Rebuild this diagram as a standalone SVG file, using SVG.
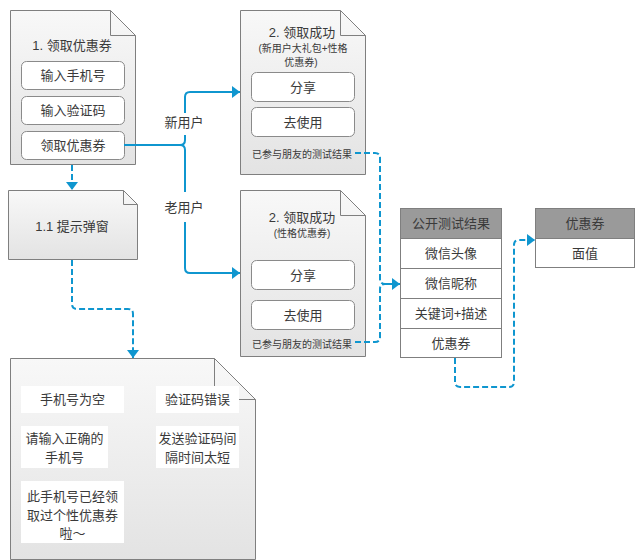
<svg xmlns="http://www.w3.org/2000/svg" width="635" height="560" viewBox="0 0 635 560">
<style>
  text { font-family: "Liberation Sans", "Noto Sans CJK SC", sans-serif; fill: #3a3a3a; text-anchor: middle; }
  .t13 { font-size: 13px; }
  .t10 { font-size: 10px; }
  .doc { fill: url(#docGrad); stroke: #7f7f7f; stroke-width: 1; }
  .fold { fill: none; stroke: #7f7f7f; stroke-width: 1; }
  .btn { fill: #ffffff; stroke: #8a8a8a; stroke-width: 1; }
  .wbox { fill: #ffffff; stroke: none; }
  .cell { fill: #ffffff; stroke: #7f7f7f; stroke-width: 1; }
  .head { fill: #9a9a9a; stroke: #7f7f7f; stroke-width: 1; }
  .solid { fill: none; stroke: #0f96cf; stroke-width: 2; }
  .dash { fill: none; stroke: #0f96cf; stroke-width: 2; stroke-dasharray: 6 3; }
</style>
<defs>
  <linearGradient id="docGrad" x1="0" y1="0" x2="0" y2="1">
    <stop offset="0" stop-color="#f8f8f8"/>
    <stop offset="1" stop-color="#e3e3e3"/>
  </linearGradient>
  <marker id="arr" markerUnits="userSpaceOnUse" markerWidth="8" markerHeight="12" viewBox="0 0 8 12" refX="8" refY="6" orient="auto">
    <path d="M0,0 L8,6 L0,12 Z" fill="#0f96cf"/>
  </marker>
</defs>

<g id="node-1">
  <path class="doc" d="M10.5,10.5 H110.5 L135.5,35.5 V164.5 H10.5 Z"/>
  <path class="fold" d="M110.5,10.5 V35.5 H135.5"/>
  <text class="t13" x="72" y="50">1. 领取优惠券</text>
  <rect class="btn" x="21.5" y="61.5" width="103" height="28" rx="5"/>
  <text class="t13" x="73" y="80">输入手机号</text>
  <rect class="btn" x="21.5" y="96.5" width="103" height="28" rx="5"/>
  <text class="t13" x="73" y="115">输入验证码</text>
  <rect class="btn" x="21.5" y="131.5" width="103" height="28" rx="5"/>
  <text class="t13" x="73" y="150">领取优惠券</text>
</g>

<g id="node-1-1">
  <path class="doc" d="M8.5,190.5 H123.5 L137.5,204.5 V259.5 H8.5 Z"/>
  <path class="fold" d="M123.5,190.5 V204.5 H137.5"/>
  <text class="t13" x="72" y="231">1.1 提示弹窗</text>
</g>

<g id="node-2a">
  <path class="doc" d="M240.5,10.5 H340.5 L365.5,35.5 V174.5 H240.5 Z"/>
  <path class="fold" d="M340.5,10.5 V35.5 H365.5"/>
  <text class="t13" x="302" y="37">2. 领取成功</text>
  <text class="t10" x="303" y="51.5">(新用户大礼包+性格</text>
  <text class="t10" x="301" y="65.5">优惠券)</text>
  <rect class="btn" x="251.5" y="72.5" width="103" height="29" rx="5"/>
  <text class="t13" x="303" y="91.5">分享</text>
  <rect class="btn" x="251.5" y="107.5" width="103" height="29" rx="5"/>
  <text class="t13" x="303" y="126.5">去使用</text>
  <text class="t10" x="302" y="157.5">已参与朋友的测试结果</text>
</g>

<g id="node-2b">
  <path class="doc" d="M240.5,190.5 H340.5 L365.5,215.5 V356.5 H240.5 Z"/>
  <path class="fold" d="M340.5,190.5 V215.5 H365.5"/>
  <text class="t13" x="302" y="222">2. 领取成功</text>
  <text class="t10" x="302" y="236.5">(性格优惠券)</text>
  <rect class="btn" x="251.5" y="260.5" width="103" height="29" rx="5"/>
  <text class="t13" x="303" y="279.5">分享</text>
  <rect class="btn" x="251.5" y="300.5" width="103" height="29" rx="5"/>
  <text class="t13" x="303" y="319.5">去使用</text>
  <text class="t10" x="302" y="347.5">已参与朋友的测试结果</text>
</g>

<g id="node-tips">
  <path class="doc" d="M10.5,358.5 H214.5 L255.5,399.5 V559.5 H10.5 Z"/>
  <path class="fold" d="M214.5,358.5 V399.5 H255.5"/>
  <rect class="wbox" x="21" y="386" width="103" height="27"/>
  <text class="t13" x="72.5" y="404">手机号为空</text>
  <rect class="wbox" x="21" y="426" width="87" height="42"/>
  <text class="t13" x="64.5" y="443">请输入正确的</text>
  <text class="t13" x="64.5" y="462">手机号</text>
  <rect class="wbox" x="21" y="481" width="103" height="62"/>
  <text class="t13" x="72.5" y="501">此手机号已经领</text>
  <text class="t13" x="72.5" y="520">取过个性优惠券</text>
  <text class="t13" x="72.5" y="538">啦～</text>
  <rect class="wbox" x="156" y="386" width="83" height="27"/>
  <text class="t13" x="197.5" y="404">验证码错误</text>
  <rect class="wbox" x="156" y="426" width="83" height="42"/>
  <text class="t13" x="197.5" y="443">发送验证码间</text>
  <text class="t13" x="197.5" y="462">隔时间太短</text>
</g>

<g id="table-public">
  <rect class="head" x="400.5" y="208.5" width="101" height="30"/>
  <text class="t13" x="451" y="228">公开测试结果</text>
  <rect class="cell" x="400.5" y="238.5" width="101" height="30"/>
  <text class="t13" x="451" y="258">微信头像</text>
  <rect class="cell" x="400.5" y="268.5" width="101" height="30"/>
  <text class="t13" x="451" y="288">微信昵称</text>
  <rect class="cell" x="400.5" y="298.5" width="101" height="30"/>
  <text class="t13" x="451" y="318">关键词+描述</text>
  <rect class="cell" x="400.5" y="328.5" width="101" height="29"/>
  <text class="t13" x="451" y="347.5">优惠券</text>
</g>

<g id="table-coupon">
  <rect class="head" x="535.5" y="208.5" width="99" height="30"/>
  <text class="t13" x="585" y="228">优惠券</text>
  <rect class="cell" x="535.5" y="238.5" width="99" height="29"/>
  <text class="t13" x="585" y="257.5">面值</text>
</g>

<g id="connectors">
  <path class="solid" d="M124,145 H180 Q185,145 185,140 V135"/>
  <path class="solid" d="M185,113 V97 Q185,92 190,92 H240" marker-end="url(#arr)"/>
  <path class="solid" d="M180,145 Q185,145 185,150 V192"/>
  <path class="solid" d="M185,222 V268 Q185,273 190,273 H240" marker-end="url(#arr)"/>
  <text class="t13" x="184" y="127">新用户</text>
  <text class="t13" x="184" y="212">老用户</text>

  <path class="dash" d="M72,165 V190" marker-end="url(#arr)"/>
  <path class="dash" d="M72,260 V304 Q72,309 77,309 H128 Q133,309 133,314 V358" marker-end="url(#arr)"/>

  <path class="dash" d="M355,153 H375 Q380,153 380,158 V279 Q380,284 385,284"/>
  <path class="dash" d="M355,342 H375 Q380,342 380,337 V289 Q380,284 385,284"/>
  <path class="solid" d="M385,284 H400" marker-end="url(#arr)"/>

  <path class="dash" d="M455,358 V382 Q455,387 460,387 H509 Q514,387 514,382 V245 Q514,240 519,240 H535" marker-end="url(#arr)"/>
</g>
</svg>
